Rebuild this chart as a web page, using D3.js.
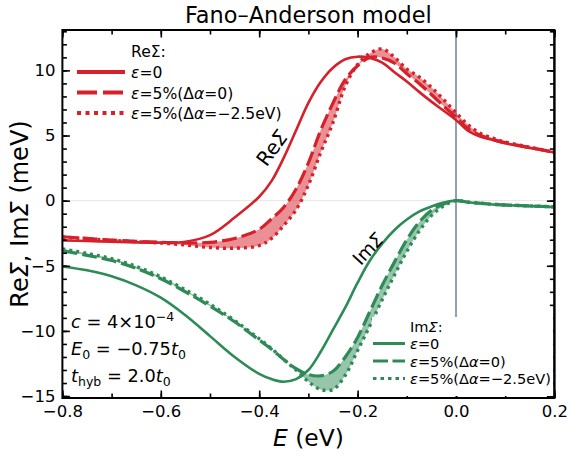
<!DOCTYPE html>
<html>
<head>
<meta charset="utf-8">
<script src="https://cdn.jsdelivr.net/npm/d3@7"></script>
<style>
  body { margin: 0; background: #fff; }
  svg { font-family: "DejaVu Sans", sans-serif; }
</style>
</head>
<body>
<svg width="567" height="456"></svg>
<script>
// energy grid (eV) and self-energy curves (meV)
const energy = [-0.8,-0.75,-0.7,-0.65,-0.6,-0.55,-0.5,-0.45,-0.4,-0.375,-0.35,-0.325,-0.3,-0.275,-0.25,-0.225,-0.2,-0.175,-0.15,-0.125,-0.1,-0.075,-0.05,-0.025,0,0.025,0.05,0.075,0.1,0.15,0.2]

const reSolid = [-3.05,-3.1,-3.15,-3.2,-3.22,-3.15,-2.65,-1.3,0.3,1.5,3.3,5.4,7.5,9.1,10.2,10.85,11.05,10.95,10.6,9.85,9.15,8.35,7.6,6.9,6.2,5.35,4.9,4.65,4.4,4.05,3.7]
const reDash  = [-2.77,-2.9,-3.03,-3.12,-3.2,-3.25,-3.2,-2.9,-2.2,-1.4,-0.5,0.9,2.9,5.4,7.5,9.3,10.35,11.0,10.95,10.55,9.75,9.0,8.15,7.25,6.4,5.5,5.0,4.7,4.45,4.08,3.72]
const reDot   = [-2.8,-2.92,-3.05,-3.15,-3.25,-3.4,-3.6,-3.65,-3.45,-2.9,-1.9,-0.7,1.2,3.7,6.0,8.8,10.45,11.3,11.65,11.0,10.1,9.5,8.7,7.75,6.75,5.8,5.15,4.8,4.5,4.1,3.72]

const imSolid = [-5.05,-5.35,-5.8,-6.5,-7.45,-8.8,-10.4,-12.0,-13.3,-13.7,-13.9,-13.7,-13.0,-11.6,-9.9,-8.2,-6.3,-4.6,-3.3,-2.25,-1.45,-0.85,-0.45,-0.15,0,-0.12,-0.22,-0.3,-0.35,-0.42,-0.5]
const imDash  = [-3.85,-4.2,-4.6,-5.2,-6.0,-7.0,-8.1,-9.3,-10.7,-11.4,-12.2,-12.9,-13.35,-13.45,-13.1,-12.0,-10.5,-8.5,-6.5,-4.7,-3.0,-1.65,-0.75,-0.25,0,-0.12,-0.2,-0.28,-0.33,-0.4,-0.48]
const imDot   = [-3.7,-4.05,-4.45,-5.05,-5.85,-6.85,-7.95,-9.2,-10.6,-11.35,-12.2,-13.0,-13.9,-14.5,-14.5,-13.4,-11.5,-9.6,-7.6,-5.7,-3.9,-2.35,-1.15,-0.4,0,-0.12,-0.2,-0.28,-0.33,-0.4,-0.48]

const xTicks = [-0.8,-0.6,-0.4,-0.2,0.0,0.2]
const yTicks = [-15,-10,-5,0,5,10]

const red = "#d6202a"
const green = "#2e8b57"

const svg = d3.select("svg")
const pL = 62.4, pR = 554.4, pT = 30, pB = 398

const x = d3.scaleLinear().domain([-0.8, 0.2]).range([pL, pR])
const y = d3.scaleLinear().domain([-15.15, 13.1]).range([pB, pT])

svg.append("clipPath").attr("id", "plot")
  .append("rect").attr("x", pL).attr("y", pT).attr("width", pR - pL).attr("height", pB - pT)

const g = svg.append("g").attr("clip-path", "url(#plot)")

// zero line + vertical line at E=0
g.append("line").attr("x1", pL).attr("x2", pR).attr("y1", y(0)).attr("y2", y(0))
  .attr("stroke", "#e6e6e6").attr("stroke-width", 1)
g.append("line").attr("x1", x(0)).attr("x2", x(0)).attr("y1", pT).attr("y2", 330)
  .attr("stroke", "#778899").attr("stroke-width", 1.6)

const idx = d3.range(energy.length)
const curve = d3.curveCatmullRom.alpha(0.5)

function band(a, b, color) {
  const area = d3.area().curve(curve)
    .x(i => x(energy[i])).y0(i => y(a[i])).y1(i => y(b[i]))
  g.append("path").attr("d", area(idx)).attr("fill", color).attr("opacity", 0.5)
}
function line(vals, color, dash, w) {
  const ln = d3.line().curve(curve).x(i => x(energy[i])).y(i => y(vals[i]))
  g.append("path").attr("d", ln(idx)).attr("fill", "none")
    .attr("stroke", color).attr("stroke-width", w)
    .attr("stroke-dasharray", dash)
}

band(reDash, reDot, red)
band(imDash, imDot, green)
line(reSolid, red, null, 2.6)
line(reDash, red, "15,5", 3.2)
line(reDot, red, "3,4", 3.4)
line(imSolid, green, null, 2.6)
line(imDash, green, "15,5", 3.2)
line(imDot, green, "3,4", 3.4)

// axes: major + minor ticks pointing inward on all sides
function axes(axisFn, scale, major, minor, tr, labels) {
  const a = svg.append("g").attr("transform", tr)
  a.call(axisFn(scale).tickValues(minor).tickSize(-4.5).tickFormat(""))
  a.call(g2 => g2.selectAll(".domain").remove())
  const b = svg.append("g").attr("transform", tr)
  b.call(axisFn(scale).tickValues(major).tickSize(-7.5).tickPadding(7)
    .tickFormat(labels ? (d => d3.format(labels)(d).replace("-", "−")) : ""))
  b.call(g2 => g2.selectAll(".domain").remove())
  b.selectAll("text").attr("font-size", 16.5).attr("fill", "#000").attr("font-family", "DejaVu Sans")
  svg.selectAll(".tick line").attr("stroke", "#000").attr("stroke-width", 1.6)
}
const xMinor = d3.range(-0.8, 0.201, 0.1).map(v => +v.toFixed(2))
const yMinor = d3.range(-15, 14, 1)
axes(d3.axisBottom, x, xTicks, xMinor, `translate(0,${pB})`, ".1f")
axes(d3.axisTop, x, xTicks, xMinor, `translate(0,${pT})`, null)
axes(d3.axisLeft, y, yTicks, yMinor, `translate(${pL},0)`, "d")
axes(d3.axisRight, y, yTicks, yMinor, `translate(${pR},0)`, null)

svg.append("rect").attr("x", pL).attr("y", pT).attr("width", pR - pL).attr("height", pB - pT)
  .attr("fill", "none").attr("stroke", "#000").attr("stroke-width", 2)

// titles
svg.append("text").attr("x", (pL + pR) / 2).attr("y", 23).attr("text-anchor", "middle")
  .attr("font-size", 22.4).text("Fano–Anderson model")
const xl = svg.append("text").attr("x", (pL + pR) / 2).attr("y", 446).attr("text-anchor", "middle").attr("font-size", 23.4)
xl.append("tspan").attr("font-style", "italic").text("E")
xl.append("tspan").text(" (eV)")
const yl = svg.append("text").attr("transform", "translate(28,214) rotate(-90)").attr("text-anchor", "middle").attr("font-size", 24)
yl.append("tspan").text("Re")
yl.append("tspan").attr("font-style", "italic").text("Σ")
yl.append("tspan").text(", Im")
yl.append("tspan").attr("font-style", "italic").text("Σ")
yl.append("tspan").text(" (meV)")

// curve labels, centred on their rotation point
const l1 = svg.append("text").attr("transform", "translate(272,148) rotate(-54)").attr("text-anchor", "middle")
  .attr("dy", "0.35em").attr("font-size", 20)
l1.append("tspan").text("Re")
l1.append("tspan").attr("font-style", "italic").text("Σ")
const l2 = svg.append("text").attr("transform", "translate(368,249) rotate(-47)").attr("text-anchor", "middle")
  .attr("dy", "0.35em").attr("font-size", 18.5)
l2.append("tspan").text("Im")
l2.append("tspan").attr("font-style", "italic").text("Σ")

// parameter annotations
const fs = 17.8, sub = 12.5
const p1 = svg.append("text").attr("x", 71).attr("y", 328).attr("font-size", fs)
p1.append("tspan").attr("font-style", "italic").text("c")
p1.append("tspan").text(" = 4×10")
p1.append("tspan").attr("dy", -7).attr("font-size", sub).text("−4")
const p2 = svg.append("text").attr("x", 71).attr("y", 355).attr("font-size", fs)
p2.append("tspan").attr("font-style", "italic").text("E")
p2.append("tspan").attr("dy", 4).attr("font-size", sub).text("0")
p2.append("tspan").attr("dy", -4).text(" = −0.75")
p2.append("tspan").attr("font-style", "italic").text("t")
p2.append("tspan").attr("dy", 4).attr("font-size", sub).text("0")
const p3 = svg.append("text").attr("x", 71).attr("y", 382).attr("font-size", fs)
p3.append("tspan").attr("font-style", "italic").text("t")
p3.append("tspan").attr("dy", 4).attr("font-size", sub).text("hyb")
p3.append("tspan").attr("dy", -4).text(" = 2.0")
p3.append("tspan").attr("font-style", "italic").text("t")
p3.append("tspan").attr("dy", 4).attr("font-size", sub).text("0")

// legends
function legendLabel(t, xx, yy, size, last) {
  const tx = t.append("text").attr("x", xx).attr("y", yy).attr("font-size", size)
  tx.append("tspan").attr("font-style", "italic").text("ε")
  if (last === null) { tx.append("tspan").text("=0"); return }
  tx.append("tspan").text("=5%(Δ")
  tx.append("tspan").attr("font-style", "italic").text("α")
  tx.append("tspan").text("=" + last + ")")
}

const legRe = svg.append("g")
legRe.append("rect").attr("x", 72).attr("y", 38).attr("width", 214).attr("height", 82).attr("fill", "#fff")
const t1 = legRe.append("text").attr("x", 131).attr("y", 57).attr("font-size", 15.6)
t1.append("tspan").text("ReΣ:")
const reItems = [[null, null, 4], ["20,6", "0", 4], ["4,4.5", "−2.5eV", 4]]
reItems.forEach((it, k) => {
  const yy = 72 + k * 20.5
  legRe.append("line").attr("x1", 77).attr("x2", 125).attr("y1", yy).attr("y2", yy)
    .attr("stroke", red).attr("stroke-width", it[2]).attr("stroke-dasharray", it[0])
  legendLabel(legRe, 131, yy + 6, 15.6, it[1])
})

const legIm = svg.append("g")
legIm.append("rect").attr("x", 372).attr("y", 317).attr("width", 181).attr("height", 79).attr("fill", "#fff")
const t2 = legIm.append("text").attr("x", 410).attr("y", 331.5).attr("font-size", 14.6)
t2.append("tspan").text("Im")
t2.append("tspan").attr("font-style", "italic").text("Σ")
t2.append("tspan").text(":")
const imItems = [[null, null], ["15,4.5", "0"], ["3.5,4", "−2.5eV"]]
imItems.forEach((it, k) => {
  const yy = 343.5 + k * 17.5
  legIm.append("line").attr("x1", 373).attr("x2", 405).attr("y1", yy).attr("y2", yy)
    .attr("stroke", green).attr("stroke-width", 3).attr("stroke-dasharray", it[0])
  legendLabel(legIm, 410, yy + 5.5, 14.6, it[1])
})
// redraw right frame edge over the legend box
svg.append("line").attr("x1", pR).attr("x2", pR).attr("y1", pT).attr("y2", pB)
  .attr("stroke", "#000").attr("stroke-width", 2)
</script>
</body>
</html>
